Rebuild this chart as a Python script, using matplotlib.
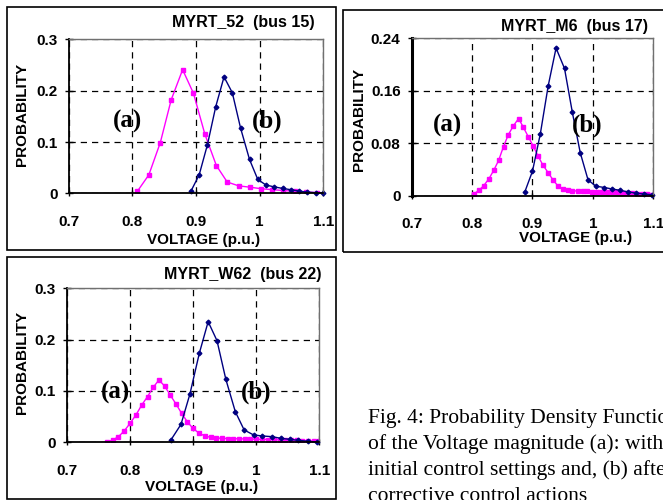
import matplotlib
matplotlib.use('Agg')
import matplotlib.pyplot as plt
from matplotlib.patches import Rectangle

W, H = 663, 500

# ---- data ----
# MYRT_52 (bus 15)
x_a1 = [0.808, 0.826, 0.844, 0.861, 0.879, 0.896, 0.914, 0.932, 0.949, 0.967,
        0.984, 1.002, 1.020, 1.037, 1.055, 1.072, 1.090]
p_a1 = [0.004, 0.036, 0.099, 0.182, 0.241, 0.195, 0.115, 0.054, 0.022, 0.0145,
        0.012, 0.009, 0.007, 0.0055, 0.0037, 0.0025, 0.0013]
x_b1 = [0.892, 0.905, 0.918, 0.931, 0.944, 0.957, 0.970, 0.984, 0.997, 1.010,
        1.023, 1.036, 1.049, 1.062, 1.075, 1.088, 1.100]
p_b1 = [0.004, 0.036, 0.095, 0.169, 0.227, 0.196, 0.127, 0.066, 0.027, 0.016,
        0.0125, 0.0095, 0.007, 0.0042, 0.0023, 0.0012, 0.0004]

# MYRT_M6 (bus 17)
x_a2 = [0.803, 0.811, 0.819, 0.828, 0.836, 0.844, 0.852, 0.860, 0.868, 0.877,
        0.885, 0.893, 0.901, 0.909, 0.917, 0.926, 0.934, 0.942, 0.950, 0.958,
        0.966, 0.975, 0.983, 0.991, 0.999, 1.007, 1.015, 1.024, 1.032, 1.040,
        1.048, 1.056, 1.064, 1.073, 1.081, 1.089, 1.097]
p_a2 = [0.0026, 0.008, 0.015, 0.026, 0.039, 0.054, 0.075, 0.093, 0.106, 0.1177,
        0.104, 0.090, 0.076, 0.061, 0.047, 0.035, 0.024, 0.015, 0.0097, 0.0082,
        0.0075, 0.0071, 0.0068, 0.0066, 0.0063, 0.0061, 0.0058, 0.0056, 0.0053, 0.0050,
        0.0046, 0.0042, 0.0037, 0.0032, 0.0026, 0.0020, 0.0015]
x_b2 = [0.887, 0.900, 0.913, 0.926, 0.939, 0.953, 0.966, 0.979, 0.992, 1.005,
        1.019, 1.032, 1.045, 1.058, 1.072, 1.085, 1.098]
p_b2 = [0.0051, 0.0375, 0.0945, 0.1676, 0.2251, 0.194, 0.127, 0.0657, 0.024, 0.0145,
        0.0125, 0.0102, 0.0082, 0.0058, 0.0038, 0.0025, 0.0015]

# MYRT_W62 (bus 22)
x_a3 = [0.764, 0.773, 0.782, 0.791, 0.801, 0.810, 0.819, 0.828, 0.837, 0.846,
        0.855, 0.864, 0.873, 0.882, 0.891, 0.900, 0.910, 0.919, 0.928, 0.937,
        0.946, 0.955, 0.964, 0.973, 0.982, 0.991, 1.000, 1.009, 1.018, 1.028,
        1.037, 1.046, 1.055, 1.064, 1.073, 1.082, 1.091, 1.100]
p_a3 = [0.001, 0.0045, 0.011, 0.022, 0.038, 0.054, 0.073, 0.089, 0.107, 0.1214,
        0.1097, 0.092, 0.0747, 0.0565, 0.040, 0.027, 0.0175, 0.0123, 0.0097, 0.0084,
        0.0078, 0.0074, 0.0071, 0.0068, 0.0065, 0.0062, 0.006, 0.0057, 0.0054, 0.0051,
        0.0048, 0.0045, 0.0041, 0.0037, 0.0032, 0.0027, 0.0022, 0.0018]
x_b3 = [0.865, 0.881, 0.895, 0.910, 0.924, 0.938, 0.952, 0.967, 0.981, 0.996,
        1.010, 1.025, 1.039, 1.053, 1.067, 1.082, 1.096]
p_b3 = [0.0045, 0.035, 0.0935, 0.1734, 0.235, 0.198, 0.1227, 0.0597, 0.024, 0.0143,
        0.0123, 0.011, 0.0078, 0.0058, 0.0039, 0.002, 0.0006]

x_ticks = [0.7, 0.8, 0.9, 1.0, 1.1]
x_ticklabels = ['0.7', '0.8', '0.9', '1', '1.1']
y_ticks_13 = [0, 0.1, 0.2, 0.3]
y_ticklabels_13 = ['0', '0.1', '0.2', '0.3']
y_ticks_2 = [0, 0.08, 0.16, 0.24]
y_ticklabels_2 = ['0', '0.08', '0.16', '0.24']

caption = ["Fig. 4: Probability Density Functions",
           "of the Voltage magnitude (a): with",
           "initial control settings and, (b) after",
           "corrective control actions"]

SANS = 'Liberation Sans'
SERIF = 'Liberation Serif'
PINK = '#FF00FF'
NAVY = '#000080'

fig = plt.figure(figsize=(W / 100, H / 100), dpi=100)
fig.patch.set_facecolor('white')


def fx(x):
    return x / W


def fy(y):
    return 1 - y / H


def box(x0, y0, x1, y1):
    fig.add_artist(Rectangle((fx(x0), fy(y1)), fx(x1) - fx(x0), fy(y0) - fy(y1),
                             transform=fig.transFigure, fill=False,
                             edgecolor='black', lw=1.2))


def panel(area, ymax, yticks, yticklabels, xa, pa, xb, pb, title, title_xy,
          ylab_xy, xlab_xy, a_xy, b_xy, left_lw=1.3):
    x0, y0, x1, y1 = area  # pixel coords of plot area (0.7, ymax) -> (1.1, 0)
    ax = fig.add_axes([fx(x0), fy(y1), fx(x1) - fx(x0), fy(y0) - fy(y1)])
    ax.set_xlim(0.7, 1.1)
    ax.set_ylim(0, ymax)
    ax.set_xticks(x_ticks)
    ax.set_xticklabels(x_ticklabels)
    ax.set_yticks(yticks)
    ax.set_yticklabels(yticklabels)
    ax.set_axisbelow(True)
    ax.grid(True, color='black', lw=0.9, linestyle=(0, (5, 4)))
    for s in ('top', 'right'):
        ax.spines[s].set_color('#707070')
        ax.spines[s].set_linewidth(1.0)
    ax.spines['left'].set_linewidth(left_lw)
    ax.spines['bottom'].set_linewidth(1.3)
    ax.tick_params(axis='x', direction='inout', length=5, width=1, pad=13)
    ax.tick_params(axis='y', direction='inout', length=6, width=1, pad=5)
    for lab in ax.get_xticklabels() + ax.get_yticklabels():
        lab.set_fontfamily(SANS)
        lab.set_fontweight('bold')
        lab.set_fontsize(11)
    ax.plot(xa, pa, color=PINK, lw=1.0, marker='s', ms=3.2, mec=PINK, mfc=PINK)
    ax.plot(xb, pb, color=NAVY, lw=1.0, marker='D', ms=2.4, mec=NAVY, mfc=NAVY,
            clip_on=False)
    fig.text(fx(title_xy[0]), fy(title_xy[1]), title, ha='right', va='center',
             family=SANS, weight='bold', fontsize=11.5)
    fig.text(fx(ylab_xy[0]), fy(ylab_xy[1]), 'PROBABILITY', rotation=90,
             ha='center', va='center', family=SANS, weight='bold', fontsize=11)
    fig.text(fx(xlab_xy[0]), fy(xlab_xy[1]), 'VOLTAGE (p.u.)', ha='center',
             va='center', family=SANS, weight='bold', fontsize=11)
    fig.text(fx(a_xy[0]), fy(a_xy[1]), '(a)', ha='center', va='center',
             family=SERIF, weight='bold', fontsize=18)
    fig.text(fx(b_xy[0]), fy(b_xy[1]), '(b)', ha='center', va='center',
             family=SERIF, weight='bold', fontsize=18)
    return ax


# panel frames
box(7, 7, 336, 250)
box(343, 10, 670, 252)
box(7, 257, 336, 499)

panel((68.6, 39.4, 323.4, 193.3), 0.3, y_ticks_13, y_ticklabels_13,
      x_a1, p_a1, x_b1, p_b1, 'MYRT_52  (bus 15)', (315, 23),
      (22, 114), (204, 240), (127, 121), (267, 121))

panel((411.7, 38.3, 653.3, 195.7), 0.24, y_ticks_2, y_ticklabels_2,
      x_a2, p_a2, x_b2, p_b2, 'MYRT_M6  (bus 17)', (648, 27),
      (359, 119), (576, 238), (447, 125), (587, 125), left_lw=2.2)

panel((66.7, 288.3, 319.3, 442.3), 0.3, y_ticks_13, y_ticklabels_13,
      x_a3, p_a3, x_b3, p_b3, 'MYRT_W62  (bus 22)', (322, 274),
      (22, 362), (202, 487), (115, 392), (256, 392))

for i, line in enumerate(caption):
    fig.text(fx(368), fy(423 + 26 * i), line, ha='left', va='baseline',
             family=SERIF, fontsize=15.5)

fig.savefig('out.png', dpi=100)
